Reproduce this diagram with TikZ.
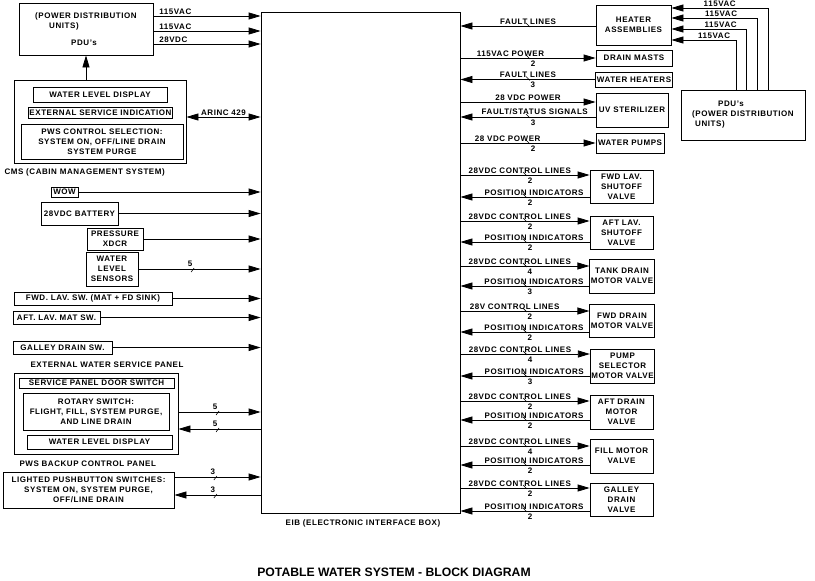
\documentclass[tikz,border=0pt]{standalone}
\usepackage{fontspec}
\setmainfont{Liberation Sans}[LetterSpace=7]
\newfontfamily\titlefam{Liberation Sans}
\usepackage{tikz}
\usetikzlibrary{arrows.meta,calc}
\newcommand\eibfont{\fontsize{8}{10}\selectfont\bfseries}
\newcommand\eibtitle{\titlefam\fontsize{12.2}{14}\selectfont\bfseries}

\begin{document}
\begin{tikzpicture}[x=1pt,y=-1pt,
      every node/.style={font=\eibfont},
      box/.style={draw,line width=0.8pt,inner sep=1pt,align=center},
      arrow/.style={-{Triangle[length=12pt,width=7pt]},line width=0.8pt},
      darrow/.style={{Triangle[length=12pt,width=7pt]}-{Triangle[length=12pt,width=7pt]},line width=0.8pt},
      lab/.style={above,inner sep=1.5pt},
      pics/rtick/.style={code={\draw[-,line width=0.6pt] (-2,-3) -- (2,1);
          \node[inner sep=0pt] at (5,5.5) {#1};}},
      pics/ltick/.style={code={\draw[-,line width=0.6pt] (-1,3) -- (2,-1);
          \node[inner sep=0pt] at (-2,-5.5) {#1};}}]
    \useasboundingbox (0,0) rectangle (815,581);
    % electronic interface box
    \node[box,minimum width=199,minimum height=501] (eib) at (360.5,263) {};
    \node (eiblab) at (363,523) {EIB (ELECTRONIC INTERFACE BOX)};
    \node[font=\eibtitle] (title) at (394,572) {POTABLE WATER SYSTEM - BLOCK DIAGRAM};
    % left side
    \node[box,minimum width=134,minimum height=52,align=left] (pdu) at (86,29)
      {(POWER DISTRIBUTION\\\hspace*{14pt}UNITS)\\[7pt]\hspace*{36pt}PDU's};
    \node[box,minimum width=172,minimum height=83] (cms) at (100,121.5) {};
    \node[box,minimum width=134,minimum height=15] (cwld) at (100,94.5) {WATER LEVEL DISPLAY};
    \node[box,minimum width=144,minimum height=11] (cesi) at (100.5,112.5) {EXTERNAL SERVICE INDICATION};
    \node[box,minimum width=162,minimum height=35] (cpws) at (102,141.5)
      {PWS CONTROL SELECTION:\\SYSTEM ON, OFF/LINE DRAIN\\SYSTEM PURGE};
    \node[anchor=west] (cmslab) at (1,172) {CMS (CABIN MANAGEMENT SYSTEM)};
    \node[box,minimum width=27,minimum height=10] (wow) at (64.5,192) {WOW};
    \node[box,minimum width=77,minimum height=23] (batt) at (79.5,213.5) {28VDC BATTERY};
    \node[box,minimum width=56,minimum height=22] (xdcr) at (115,239) {PRESSURE\\XDCR};
    \node[box,minimum width=52,minimum height=34] (wls) at (112,269) {WATER\\LEVEL\\SENSORS};
    \node[box,minimum width=158,minimum height=13] (fwdsw) at (93,298.5) {FWD. LAV. SW. (MAT + FD SINK)};
    \node[box,minimum width=87,minimum height=13] (aftsw) at (56.5,317.5) {AFT. LAV. MAT SW.};
    \node[box,minimum width=99,minimum height=13] (galsw) at (62.5,347.5) {GALLEY DRAIN SW.};
    \node[anchor=west] (ewsplab) at (27,365) {EXTERNAL WATER SERVICE PANEL};
    \node[box,minimum width=164,minimum height=81] (ewsp) at (96,413.5) {};
    \node[box,minimum width=155,minimum height=10] (door) at (96.5,383) {SERVICE PANEL DOOR SWITCH};
    \node[box,minimum width=146,minimum height=37] (rotary) at (96,411.5)
      {ROTARY SWITCH:\\FLIGHT, FILL, SYSTEM PURGE,\\AND LINE DRAIN};
    \node[box,minimum width=145,minimum height=14] (ewld) at (99.5,442) {WATER LEVEL DISPLAY};
    \node[anchor=west] (bcplab) at (16,464) {PWS BACKUP CONTROL PANEL};
    \node[box,minimum width=171,minimum height=36] (lps) at (88.5,490)
      {LIGHTED PUSHBUTTON SWITCHES:\\SYSTEM ON, SYSTEM PURGE,\\OFF/LINE DRAIN};
    % right side
    \node[box,minimum width=75,minimum height=40] (heater) at (633.5,25) {HEATER\\ASSEMBLIES};
    \node[box,minimum width=124,minimum height=50,align=left] (pdur) at (743,115)
      {\hspace*{26pt}PDU's\\(POWER DISTRIBUTION\\\hspace*{3pt}UNITS)};
    \node[box,minimum width=76,minimum height=16] (masts) at (634,58) {DRAIN MASTS};
    \node[box,minimum width=76,minimum height=15] (wheat) at (634,79.5) {WATER HEATERS};
    \node[box,minimum width=72,minimum height=34] (uv) at (632,110) {UV STERILIZER};
    \node[box,minimum width=68,minimum height=20] (pumps) at (630,143) {WATER PUMPS};
    \node[box,minimum width=63,minimum height=33] (fwdlav) at (621.5,186.5) {FWD LAV.\\SHUTOFF\\VALVE};
    \node[box,minimum width=63,minimum height=33] (aftlav) at (621.5,232.5) {AFT LAV.\\SHUTOFF\\VALVE};
    \node[box,minimum width=64,minimum height=34] (tank) at (622,276) {TANK DRAIN\\MOTOR VALVE};
    \node[box,minimum width=64,minimum height=33] (fwdmv) at (622,320.5) {FWD DRAIN\\MOTOR VALVE};
    \node[box,minimum width=64,minimum height=34] (pumpsel) at (622.5,366) {PUMP\\SELECTOR\\MOTOR VALVE};
    \node[box,minimum width=63,minimum height=34] (aftmv) at (621.5,412) {AFT DRAIN\\MOTOR\\VALVE};
    \node[box,minimum width=63,minimum height=34] (fill) at (621.5,456) {FILL MOTOR\\VALVE};
    \node[box,minimum width=63,minimum height=33] (galv) at (621.5,499.5) {GALLEY\\DRAIN\\VALVE};
    % connectors, left
    \draw[arrow] (pdu.east |- 0,16) -- node[pos=0,anchor=south west,inner sep=1.5pt,xshift=4] {115VAC} (eib.west |- 0,16);
    \draw[arrow] (pdu.east |- 0,31) -- node[pos=0,anchor=south west,inner sep=1.5pt,xshift=4] {115VAC} (eib.west |- 0,31);
    \draw[arrow] (pdu.east |- 0,44) -- node[pos=0,anchor=south west,inner sep=1.5pt,xshift=4] {28VDC} (eib.west |- 0,44);
    \draw[arrow] (cms.north -| pdu.south) -- (pdu.south);
    \draw[darrow] (cms.east |- 0,117) -- node[above,inner sep=1pt] {ARINC 429} (eib.west |- 0,117);
    \draw[arrow] (wow) -- (wow -| eib.west);
    \draw[arrow] (batt) -- (batt -| eib.west);
    \draw[arrow] (xdcr) -- (xdcr -| eib.west);
    \draw[arrow] (wls) -- pic[pos=.44]{ltick=5} (wls -| eib.west);
    \draw[arrow] (fwdsw) -- (fwdsw -| eib.west);
    \draw[arrow] (aftsw) -- (aftsw -| eib.west);
    \draw[arrow] (galsw) -- (galsw -| eib.west);
    \draw[arrow] (ewsp.east |- 0,412) -- pic[pos=.47]{ltick=5} (eib.west |- 0,412);
    \draw[arrow] (eib.west |- 0,429) -- pic[pos=.53]{ltick=5} (ewsp.east |- 0,429);
    \draw[arrow] (lps.east |- 0,477) -- pic[pos=.47]{ltick=3} (eib.west |- 0,477);
    \draw[arrow] (eib.west |- 0,495) -- pic[pos=.53]{ltick=3} (lps.east |- 0,495);
    % connectors, right
    \draw[arrow] (heater.west |- 0,26) -- node[lab]{FAULT LINES} pic[midway]{rtick=} (eib.east |- 0,26);
    \draw[arrow] ($(pdur.north)+(25,0)$) |- node[lab,pos=.75]{115VAC} ($(heater.east)+(0,-17)$);
    \draw[arrow] ($(pdur.north)+(14,0)$) |- node[lab,pos=.71]{115VAC} ($(heater.east)+(0,-7)$);
    \draw[arrow] ($(pdur.north)+(3,0)$) |- node[lab,pos=.67]{115VAC} ($(heater.east)+(0,4)$);
    \draw[arrow] ($(pdur.north)+(-7,0)$) |- node[lab,pos=.67]{115VAC} ($(heater.east)+(0,15)$);
    \draw[arrow] (eib.east |- masts) -- node[lab,pos=.37]{115VAC POWER} pic[midway]{rtick=2} (masts);
    \draw[arrow] (wheat) -- node[lab]{FAULT LINES} pic[midway]{rtick=3} (wheat -| eib.east);
    \draw[arrow] (eib.east |- 0,102) -- node[lab]{28 VDC POWER} (uv.west |- 0,102);
    \draw[arrow] (uv.west |- 0,117) -- node[lab,pos=.45]{FAULT/STATUS SIGNALS} pic[midway]{rtick=3} (eib.east |- 0,117);
    \draw[arrow] (eib.east |- pumps) -- node[lab,pos=.35]{28 VDC POWER} pic[midway]{rtick=2} (pumps);
    % valves
    \draw[arrow] (eib.east |- 0,175) -- node[lab,pos=.46]{28VDC CONTROL LINES} pic[midway]{rtick=2} (fwdlav.west |- 0,175);
    \draw[arrow] (fwdlav.west |- 0,197) -- node[lab,pos=.43]{POSITION INDICATORS} pic[midway]{rtick=2} (eib.east |- 0,197);
    \draw[arrow] (eib.east |- 0,221) -- node[lab,pos=.46]{28VDC CONTROL LINES} pic[midway]{rtick=2} (aftlav.west |- 0,221);
    \draw[arrow] (aftlav.west |- 0,242) -- node[lab,pos=.43]{POSITION INDICATORS} pic[midway]{rtick=2} (eib.east |- 0,242);
    \draw[arrow] (eib.east |- 0,266) -- node[lab,pos=.46]{28VDC CONTROL LINES} pic[midway]{rtick=4} (tank.west |- 0,266);
    \draw[arrow] (tank.west |- 0,286) -- node[lab,pos=.43]{POSITION INDICATORS} pic[midway]{rtick=3} (eib.east |- 0,286);
    \draw[arrow] (eib.east |- 0,311) -- node[lab,pos=.42]{28V CONTROL LINES} pic[midway]{rtick=2} (fwdmv.west |- 0,311);
    \draw[arrow] (fwdmv.west |- 0,332) -- node[lab,pos=.43]{POSITION INDICATORS} pic[midway]{rtick=2} (eib.east |- 0,332);
    \draw[arrow] (eib.east |- 0,354) -- node[lab,pos=.46]{28VDC CONTROL LINES} pic[midway]{rtick=4} (pumpsel.west |- 0,354);
    \draw[arrow] (pumpsel.west |- 0,376) -- node[lab,pos=.43]{POSITION INDICATORS} pic[midway]{rtick=3} (eib.east |- 0,376);
    \draw[arrow] (eib.east |- 0,401) -- node[lab,pos=.46]{28VDC CONTROL LINES} pic[midway]{rtick=2} (aftmv.west |- 0,401);
    \draw[arrow] (aftmv.west |- 0,420) -- node[lab,pos=.43]{POSITION INDICATORS} pic[midway]{rtick=2} (eib.east |- 0,420);
    \draw[arrow] (eib.east |- 0,446) -- node[lab,pos=.46]{28VDC CONTROL LINES} pic[midway]{rtick=4} (fill.west |- 0,446);
    \draw[arrow] (fill.west |- 0,465) -- node[lab,pos=.43]{POSITION INDICATORS} pic[midway]{rtick=2} (eib.east |- 0,465);
    \draw[arrow] (eib.east |- 0,488) -- node[lab,pos=.46]{28VDC CONTROL LINES} pic[midway]{rtick=2} (galv.west |- 0,488);
    \draw[arrow] (galv.west |- 0,511) -- node[lab,pos=.43]{POSITION INDICATORS} pic[midway]{rtick=2} (eib.east |- 0,511);
\end{tikzpicture}
\end{document}
